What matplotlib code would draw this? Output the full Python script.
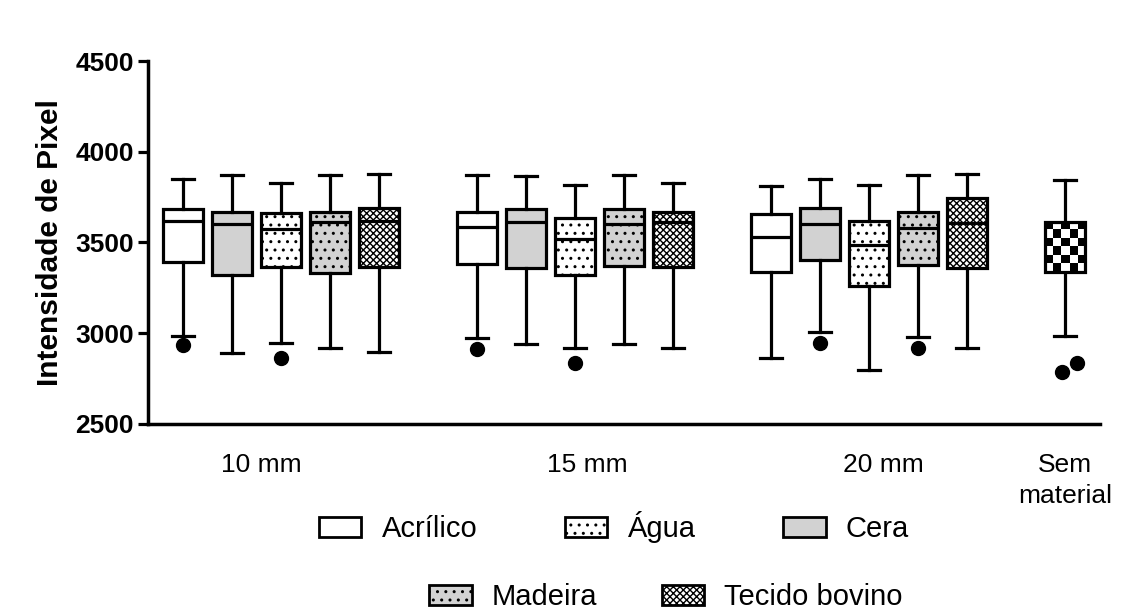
import matplotlib.pyplot as plt
import matplotlib.patches as mpatches
import numpy as np

plt.rcParams['font.family'] = ['Liberation Sans', 'DejaVu Sans']
plt.rcParams['hatch.linewidth'] = 1.0

# plotting order inside each distance group
materials = ['Acrílico', 'Cera', 'Água', 'Madeira', 'Tecido bovino']
groups = ['10 mm', '15 mm', '20 mm']

# values (pixel intensity)
med_10 = [3618, 3602, 3573, 3615, 3618]
q1_10 = [3394, 3321, 3363, 3330, 3367]
q3_10 = [3683, 3666, 3661, 3670, 3692]
lo_10 = [2986, 2893, 2948, 2917, 2895]
hi_10 = [3850, 3872, 3826, 3872, 3876]
out_10 = [[2935], [], [2865], [], []]

med_15 = [3584, 3611, 3519, 3602, 3615]
q1_15 = [3381, 3358, 3321, 3370, 3363]
q3_15 = [3666, 3683, 3637, 3683, 3666]
lo_15 = [2972, 2939, 2920, 2941, 2920]
hi_15 = [3872, 3868, 3817, 3872, 3826]
out_15 = [[2912], [], [2834], [], []]

med_20 = [3532, 3600, 3486, 3582, 3605]
q1_20 = [3339, 3404, 3260, 3376, 3358]
q3_20 = [3657, 3688, 3620, 3670, 3744]
lo_20 = [2865, 3005, 2798, 2978, 2917]
hi_20 = [3811, 3848, 3817, 3872, 3877]
out_20 = [[], [2948], [], [2920], []]

# no material
sem_label = 'Sem\nmaterial'
sem_med = 3480
sem_q1 = 3339
sem_q3 = 3615
sem_lo = 2985
sem_hi = 3844
sem_out = [2788, 2838]

# box looks: facecolor, hatch
styles = {
    'Acrílico': ('white', None),
    'Cera': ('#d2d2d2', None),
    'Água': ('white', '..'),
    'Madeira': ('#d2d2d2', '..'),
    'Tecido bovino': ('white', 'xxxxx'),
}

fig = plt.figure(figsize=(11.29, 6.15), dpi=100)
ax = fig.add_axes([0.131, 0.3106, 0.843, 0.5902])

lw = 2.3
common = dict(widths=0.82, capwidths=0.45, patch_artist=True,
              whiskerprops=dict(linewidth=lw, color='black'),
              capprops=dict(linewidth=lw, color='black'),
              medianprops=dict(linewidth=lw, color='black'),
              flierprops=dict(marker='o', markerfacecolor='black',
                              markeredgecolor='black', markersize=10))

all_data = [(med_10, q1_10, q3_10, lo_10, hi_10, out_10),
            (med_15, q1_15, q3_15, lo_15, hi_15, out_15),
            (med_20, q1_20, q3_20, lo_20, hi_20, out_20)]

for g, (med, q1, q3, lo, hi, out) in enumerate(all_data):
    for i, m in enumerate(materials):
        st = dict(med=med[i], q1=q1[i], q3=q3[i], whislo=lo[i],
                  whishi=hi[i], fliers=out[i])
        fc, hatch = styles[m]
        ax.bxp([st], positions=[g * 6 + i],
               boxprops=dict(facecolor=fc, hatch=hatch, linewidth=lw,
                             edgecolor='black'),
               **common)

# sem material, checkerboard fill, fliers drawn slightly apart
sem_pos = 18
st = dict(med=sem_med, q1=sem_q1, q3=sem_q3, whislo=sem_lo,
          whishi=sem_hi, fliers=[])
res = ax.bxp([st], positions=[sem_pos],
             boxprops=dict(facecolor='white', linewidth=lw, edgecolor='black'),
             **dict(common, medianprops=dict(linewidth=0)))
box = res['boxes'][0]
bb = box.get_path().get_extents()
checker = (np.indices((6, 5)).sum(axis=0) % 2).astype(float)
im = ax.imshow(checker, cmap='gray', extent=[bb.x0, bb.x1, bb.y0, bb.y1],
               aspect='auto', interpolation='nearest', zorder=box.get_zorder())
im.set_clip_path(box)
box.set_facecolor('none')
box.set_zorder(box.get_zorder() + 0.1)
ax.plot(sem_pos + np.array([-0.05, 0.25]), sem_out, 'o', color='black',
        markersize=10)

ax.set_xlim(-0.71, 18.71)
ax.set_ylim(2500, 4500)
ax.set_yticks([2500, 3000, 3500, 4000, 4500])
ax.set_xticks([1.6, 8.25, 14.3, 18])
ax.set_xticklabels(groups + [sem_label], fontsize=19, linespacing=1.35)
ax.tick_params(axis='x', length=0, pad=21)
ax.tick_params(axis='y', length=7, width=2.3, labelsize=19, pad=3)
for lab in ax.get_yticklabels():
    lab.set_fontweight('bold')
ax.set_ylabel('Intensidade de Pixel', fontsize=21.5, fontweight='bold', labelpad=8)

for s in ['top', 'right']:
    ax.spines[s].set_visible(False)
for s in ['left', 'bottom']:
    ax.spines[s].set_linewidth(2.5)

def handle(m):
    fc, hatch = styles[m]
    return mpatches.Patch(facecolor=fc, edgecolor='black', hatch=hatch,
                          linewidth=2.0, label=m)

row1 = ['Acrílico', 'Água', 'Cera']
row2 = ['Madeira', 'Tecido bovino']
leg1 = fig.legend(handles=[handle(m) for m in row1], ncol=3, frameon=False,
                  loc='center', bbox_to_anchor=(0.544, 0.143), fontsize=21,
                  handlelength=1.45, handleheight=0.7, handletextpad=0.7,
                  columnspacing=3.0)
leg2 = fig.legend(handles=[handle(m) for m in row2], ncol=2, frameon=False,
                  loc='center', bbox_to_anchor=(0.59, 0.029), fontsize=21,
                  handlelength=1.45, handleheight=0.7, handletextpad=0.7,
                  columnspacing=2.2)

fig.savefig('out.png', dpi=100)
